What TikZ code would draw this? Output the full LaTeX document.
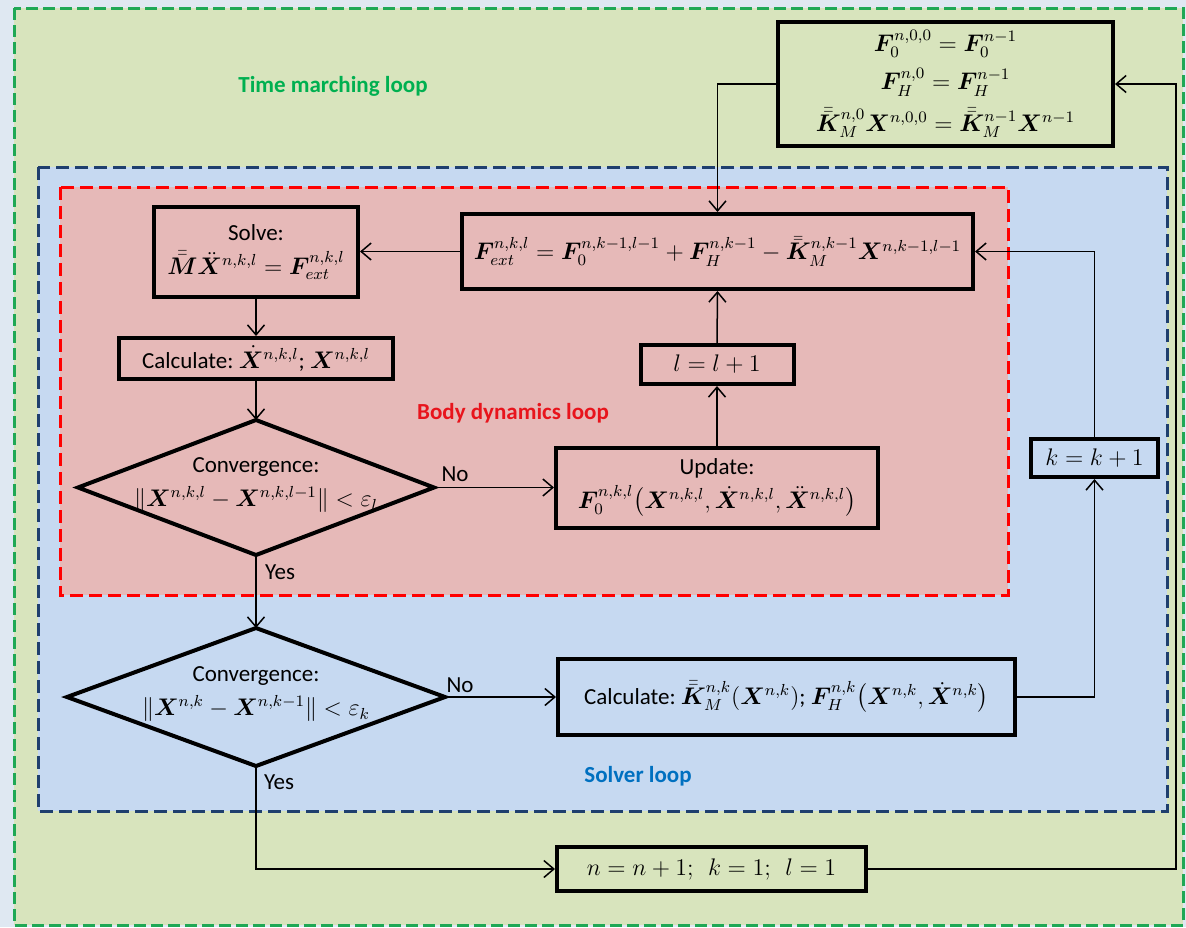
\documentclass[tikz,border=0pt]{standalone}
\usepackage{amsmath}
\usepackage{fontspec}
\setmainfont{Carlito}
\usepackage{bm}
\usetikzlibrary{arrows.meta,shapes.geometric}
\definecolor{bgout}{HTML}{DFE8F2}
\definecolor{gfill}{HTML}{D8E4BD}
\definecolor{bfill}{HTML}{C6D9F1}
\definecolor{rfill}{HTML}{E6B9B8}
\definecolor{gline}{HTML}{1FA855}
\definecolor{bline}{HTML}{1F3F6E}
\definecolor{rline}{HTML}{FF0000}
\definecolor{glab}{HTML}{00B050}
\definecolor{rlab}{HTML}{E8141C}
\definecolor{blab}{HTML}{0070C0}
\newcommand{\dbk}[1]{\bar{\bar{\bm{#1}}}}
\begin{document}
\begin{tikzpicture}[x=0.5pt,y=-0.5pt,
  font=\fontsize{11.5}{14}\selectfont,
  box/.style={draw, line width=2pt, align=center, inner sep=1pt},
  diatext/.style={align=center, inner sep=0pt},
  diaedge/.style={draw, line width=2pt, line join=miter},
  arr/.style={line width=0.75pt, -{Straight Barb[length=5pt,width=8.5pt]}},
  frame/.style={line width=1.5pt, dash pattern=on 6pt off 2.5pt},
  lab/.style={font=\fontsize{11.5}{14}\selectfont\bfseries}]
\useasboundingbox (0,0) rectangle (1186,927);
\fill[bgout] (0,0) rectangle (1186,927);
\draw[frame, gline, fill=gfill] (14,8) rectangle (1183,925);
\draw[frame, bline, fill=bfill, dash pattern=on 6.5pt off 3pt] (38,167) rectangle (1167,811);
\draw[frame, rline, fill=rfill, dash pattern=on 6.5pt off 3pt] (60,187) rectangle (1008,595);

\node[lab, text=glab] (tml) at (333,86) {Time marching loop};
\node[lab, text=rlab] (bdl) at (513,413) {Body dynamics loop};
\node[lab, text=blab] (sl) at (638,776) {Solver loop};

\node[box, minimum width=167.5pt, minimum height=62pt] (top) at (945.5,84)
 {$\bm{F}_0^{n,0,0} = \bm{F}_0^{n-1}$\\[5pt]
  $\bm{F}_H^{n,0} = \bm{F}_H^{n-1}$\\[5pt]
  $\dbk{K}_M^{n,0}\bm{X}^{n,0,0} = \dbk{K}_M^{n-1}\bm{X}^{n-1}$};
\node[box, minimum width=102pt, minimum height=45pt] (solve) at (256,252)
 {Solve:\\[3pt] $\dbk{M}\ddot{\bm{X}}^{n,k,l} = \bm{F}_{ext}^{n,k,l}$};
\node[box, minimum width=255.5pt, minimum height=37.5pt] (fext) at (717.5,251.5)
 {$\bm{F}_{ext}^{n,k,l} = \bm{F}_0^{n,k-1,l-1} + \bm{F}_H^{n,k-1} - \dbk{K}_M^{n,k-1}\bm{X}^{n,k-1,l-1}$};
\node[box, minimum width=137pt, minimum height=20.5pt] (calc1) at (256,358.5)
 {Calculate:\ $\dot{\bm{X}}^{n,k,l}$;\ $\bm{X}^{n,k,l}$};
\node[box, minimum width=76.5pt, minimum height=19.5pt] (lbox) at (717,364.5)
 {$l = l + 1$};

% diamond 1
\node[diatext] (d1) at (256,485)
 {Convergence:\\[3pt] $\|\bm{X}^{n,k,l} - \bm{X}^{n,k,l-1}\| < \varepsilon_l$};
\coordinate (d1t) at (256,420);
\coordinate (d1b) at (256,555);
\coordinate (d1l) at (78,487.5);
\coordinate (d1r) at (434,487.5);
\draw[diaedge] (d1t) -- (d1r) -- (d1b) -- (d1l) -- cycle;

\node[box, minimum width=161pt, minimum height=40pt] (upd) at (717,487.5)
 {Update:\\[3pt] $\bm{F}_0^{n,k,l}\bigl(\bm{X}^{n,k,l}, \dot{\bm{X}}^{n,k,l}, \ddot{\bm{X}}^{n,k,l}\bigr)$};

% diamond 2
\node[diatext] (d2) at (256,694)
 {Convergence:\\[3pt] $\|\bm{X}^{n,k} - \bm{X}^{n,k-1}\| < \varepsilon_k$};
\coordinate (d2t) at (256,628);
\coordinate (d2b) at (256,766);
\coordinate (d2l) at (67,697);
\coordinate (d2r) at (445,697);
\draw[diaedge] (d2t) -- (d2r) -- (d2b) -- (d2l) -- cycle;

\node[box, minimum width=228.5pt, minimum height=38pt] (calc2) at (786.5,697)
 {Calculate:\ $\dbk{K}_M^{n,k}(\bm{X}^{n,k})$; $\bm{F}_H^{n,k}\bigl(\bm{X}^{n,k}, \dot{\bm{X}}^{n,k}\bigr)$};
\node[box, minimum width=63.5pt, minimum height=19pt] (kbox) at (1094.5,458)
 {$k = k + 1$};
\node[box, minimum width=154.5pt, minimum height=22pt] (nbox) at (711.5,869)
 {$n = n + 1;\ \ k = 1;\ \ l = 1$};

\coordinate (c1) at (1176,869);
\draw[arr] (nbox.east) -- (c1) |- (top.east);
\draw[arr] (top.west) -| (fext.north);
\draw[arr] (kbox.north) |- (fext.east);
\draw[arr] (calc2.east) -| (kbox.south);
\draw[arr] (fext.west) -- (fext.west -| solve.east);
\draw[arr] (solve.south) -- (calc1.north);
\draw[arr] (calc1.south) -- (d1t);
\draw[arr] (d1r) -- (upd.west);
\draw[arr] (upd.north) -- (lbox.south);
\draw[arr] (lbox.north) -- (fext.south);
\draw[arr] (d1b) -- (d2t);
\draw[arr] (d2r) -- (calc2.west);
\draw[arr] (d2b) |- (nbox.west);

\node (no1) at (455,474) {No};
\node (no2) at (460,685) {No};
\node (yes1) at (280,572) {Yes};
\node (yes2) at (279,782) {Yes};
\end{tikzpicture}
\end{document}
